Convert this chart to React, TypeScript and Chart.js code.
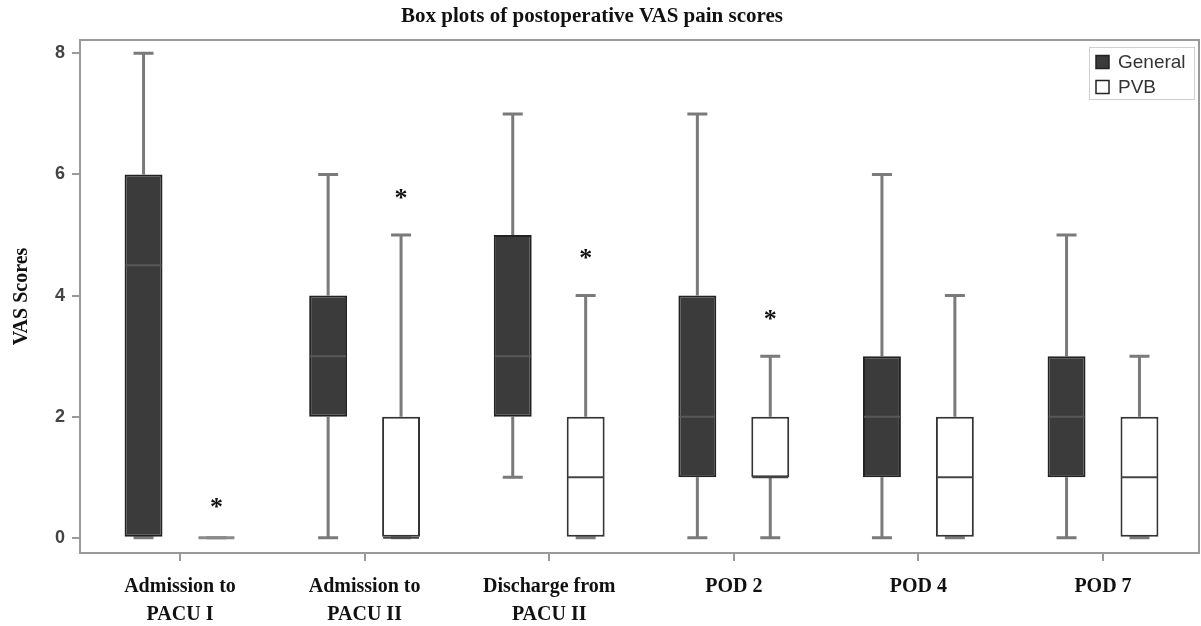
import React, { useEffect, useRef } from "react";
import { Chart, registerables } from "chart.js";

Chart.register(...registerables);

const categories: string[][] = [
  ["Admission to", "PACU I"],
  ["Admission to", "PACU II"],
  ["Discharge from", "PACU II"],
  ["POD 2"],
  ["POD 4"],
  ["POD 7"],
];
const groupLabels = ["General", "PVB"];

const generalMin = [0, 0, 1, 0, 0, 0];
const generalQ1 = [0, 2, 2, 1, 1, 1];
const generalMedian = [4.5, 3, 3, 2, 2, 2];
const generalQ3 = [6, 4, 5, 4, 3, 3];
const generalMax = [8, 6, 7, 7, 6, 5];

const pvbMin = [0, 0, 0, 0, 0, 0];
const pvbQ1 = [0, 0, 0, 1, 0, 0];
const pvbMedian = [0, 0, 1, 1, 1, 1];
const pvbQ3 = [0, 2, 2, 2, 2, 2];
const pvbMax = [0, 5, 4, 3, 4, 3];

const pvbAsterisk: (number | null)[] = [0.6, 5.7, 4.7, 3.7, null, null];

const yTicks = [0, 2, 4, 6, 8];
const chartTitle = "Box plots of postoperative VAS pain scores";
const yAxisTitle = "VAS Scores";

const WHISKER = "#7a7a7a";

const boxPlugin = {
  id: "boxWhisker",
  beforeDatasetsDraw(chart: any) {
    const { ctx, chartArea, scales } = chart;
    const y = scales.y;
    ctx.save();
    ctx.strokeStyle = "#9a9a9a";
    ctx.lineWidth = 2;
    ctx.strokeRect(chartArea.left, chartArea.top, chartArea.right - chartArea.left, chartArea.bottom - chartArea.top);
    chart.data.datasets.forEach((ds: any, di: number) => {
      const meta = chart.getDatasetMeta(di);
      meta.data.forEach((bar: any, i: number) => {
        const x = bar.x;
        const pMin = y.getPixelForValue(ds.stats.min[i]);
        const pMax = y.getPixelForValue(ds.stats.max[i]);
        const pQ1 = y.getPixelForValue(ds.stats.q1[i]);
        const pQ3 = y.getPixelForValue(ds.stats.q3[i]);
        ctx.strokeStyle = WHISKER;
        ctx.lineWidth = 3;
        ctx.beginPath();
        ctx.moveTo(x, pQ3);
        ctx.lineTo(x, pMax);
        ctx.moveTo(x, pQ1);
        ctx.lineTo(x, pMin);
        ctx.stroke();
        ctx.beginPath();
        ctx.moveTo(x - 10, pMax);
        ctx.lineTo(x + 10, pMax);
        ctx.moveTo(x - 10, pMin);
        ctx.lineTo(x + 10, pMin);
        ctx.stroke();
      });
    });
    ctx.restore();
  },
  afterDatasetsDraw(chart: any) {
    const { ctx, chartArea, scales } = chart;
    const y = scales.y;
    ctx.save();
    chart.data.datasets.forEach((ds: any, di: number) => {
      const meta = chart.getDatasetMeta(di);
      meta.data.forEach((bar: any, i: number) => {
        const x = bar.x;
        const w = bar.width;
        const pMed = y.getPixelForValue(ds.stats.median[i]);
        const flat = ds.stats.q1[i] === ds.stats.q3[i];
        ctx.strokeStyle = flat ? "#8a8a8a" : ds.medianColor;
        ctx.lineWidth = flat ? 3 : 2;
        ctx.beginPath();
        ctx.moveTo(x - w / 2 + 1, pMed);
        ctx.lineTo(x + w / 2 - 1, pMed);
        ctx.stroke();
        const ast = ds.stats.asterisk ? ds.stats.asterisk[i] : null;
        if (ast !== null && ast !== undefined) {
          const pa = y.getPixelForValue(ast);
          ctx.fillStyle = "#111";
          ctx.font = "bold 26px 'Liberation Serif', serif";
          ctx.textAlign = "center";
          ctx.textBaseline = "alphabetic";
          ctx.fillText("*", x, pa + 13);
        }
      });
    });
    // legend
    const lx = chartArea.right - 110;
    const ly = chartArea.top + 7;
    ctx.fillStyle = "#ffffff";
    ctx.fillRect(lx, ly, 105, 52);
    ctx.strokeStyle = "#cfcfcf";
    ctx.lineWidth = 1;
    ctx.strokeRect(lx + 0.5, ly + 0.5, 105, 52);
    chart.data.datasets.forEach((ds: any, di: number) => {
      const cy = ly + 15 + di * 25;
      ctx.fillStyle = ds.backgroundColor;
      ctx.fillRect(lx + 7, cy - 6.5, 13, 13);
      ctx.strokeStyle = "#222";
      ctx.lineWidth = 1.5;
      ctx.strokeRect(lx + 7, cy - 6.5, 13, 13);
      ctx.fillStyle = "#333";
      ctx.font = "19px 'Liberation Sans', Arial, sans-serif";
      ctx.textAlign = "left";
      ctx.textBaseline = "middle";
      ctx.fillText(ds.label, lx + 29, cy + 1);
    });
    // title
    ctx.fillStyle = "#111";
    ctx.font = "bold 21px 'Liberation Serif', serif";
    ctx.textAlign = "center";
    ctx.textBaseline = "middle";
    ctx.fillText(chartTitle, 592, 17);
    ctx.restore();
  },
};

export default function App() {
  const ref = useRef<HTMLCanvasElement | null>(null);
  useEffect(() => {
    if (!ref.current) return;
    const mk = (q1: number[], q3: number[]) => categories.map((_, i) => ({ x: i, y: [q1[i], q3[i]] }));
    const chart = new Chart(ref.current, {
      type: "bar",
      data: {
        datasets: [
          {
            label: groupLabels[0],
            data: mk(generalQ1, generalQ3),
            backgroundColor: "#3b3b3b",
            borderColor: "#222222",
            borderWidth: 2,
            borderSkipped: false,
            categoryPercentage: 0.79,
            barPercentage: 0.52,
            medianColor: "#585858",
            stats: { min: generalMin, q1: generalQ1, median: generalMedian, q3: generalQ3, max: generalMax },
          } as any,
          {
            label: groupLabels[1],
            data: mk(pvbQ1, pvbQ3),
            backgroundColor: "#ffffff",
            borderColor: "#333333",
            borderWidth: 2,
            borderSkipped: false,
            categoryPercentage: 0.79,
            barPercentage: 0.52,
            medianColor: "#444444",
            stats: { min: pvbMin, q1: pvbQ1, median: pvbMedian, q3: pvbQ3, max: pvbMax, asterisk: pvbAsterisk },
          } as any,
        ],
      },
      options: {
        animation: false,
        responsive: false,
        layout: { padding: { top: 40, right: 2, left: 0, bottom: 0 } },
        plugins: { legend: { display: false }, tooltip: { enabled: false }, title: { display: false } },
        scales: {
          x: {
            type: "linear",
            offset: false,
            min: -0.5417,
            max: 5.52,
            afterBuildTicks: (scale: any) => {
              scale.ticks = categories.map((_, i) => ({ value: i }));
            },
            afterFit: (scale: any) => {
              scale.height = 73;
            },
            border: { display: false },
            grid: { offset: false, drawOnChartArea: false, drawTicks: true, tickLength: 8, color: "#9a9a9a", lineWidth: 2 },
            ticks: {
              autoSkip: false,
              maxRotation: 0,
              padding: 12,
              color: "#111",
              font: { family: "'Liberation Serif', serif", size: 20, weight: "bold", lineHeight: 1.4 },
              callback: (v: any) => categories[Math.round(Number(v))],
            },
          },
          y: {
            type: "linear",
            min: -0.25,
            max: 8.22,
            afterBuildTicks: (scale: any) => {
              scale.ticks = yTicks.map((v) => ({ value: v }));
            },
            afterFit: (scale: any) => {
              scale.width = 80;
            },
            border: { display: false },
            grid: { drawOnChartArea: false, drawTicks: true, tickLength: 8, color: "#9a9a9a", lineWidth: 2 },
            ticks: {
              padding: 7,
              color: "#444",
              font: { family: "'Liberation Sans', Arial, sans-serif", size: 18, weight: "bold" },
            },
            title: {
              display: true,
              text: yAxisTitle,
              color: "#111",
              padding: { top: 10, bottom: 0 },
              font: { family: "'Liberation Serif', serif", size: 20, weight: "bold" },
            },
          },
        },
      } as any,
      plugins: [boxPlugin],
    });
    return () => chart.destroy();
  }, []);
  return (
    <div style={{ position: "absolute", left: 0, top: 0, width: 1201, height: 626, background: "#fff" }}>
      <canvas ref={ref} width={1201} height={626} style={{ width: 1201, height: 626, display: "block" }} />
    </div>
  );
}
